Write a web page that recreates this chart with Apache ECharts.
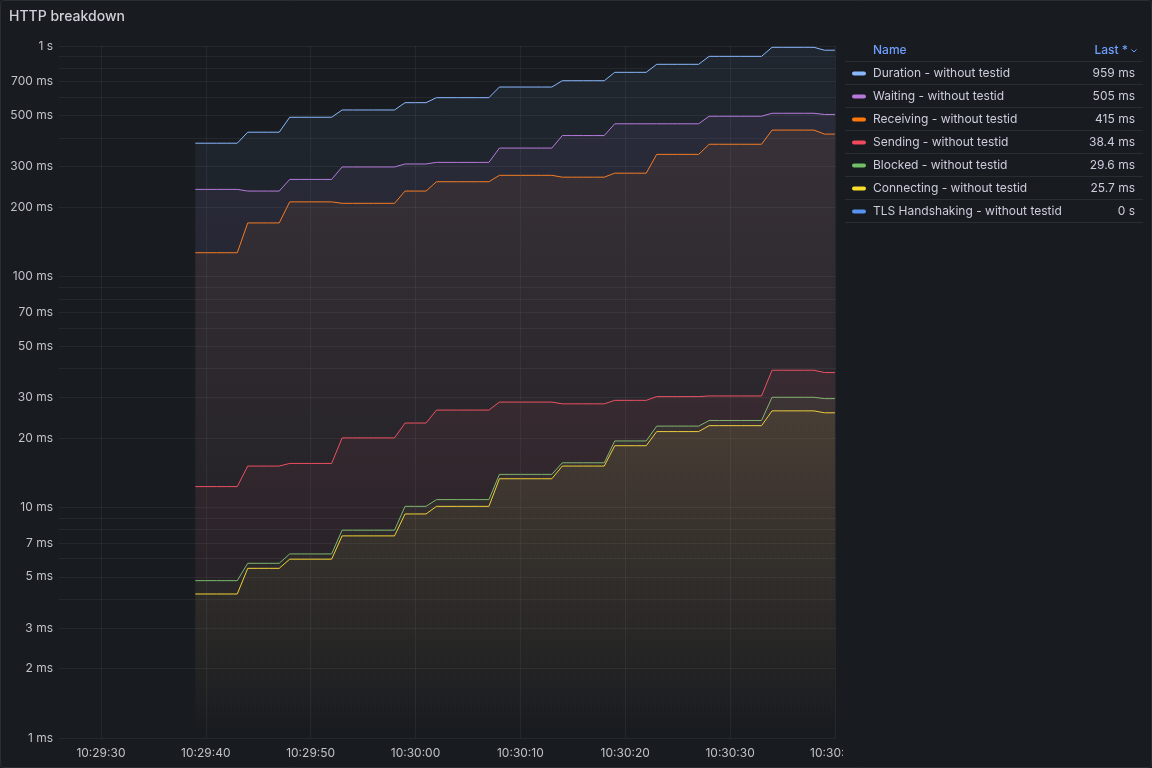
<!DOCTYPE html>
<html>
<head>
<meta charset="utf-8">
<script src="https://cdn.jsdelivr.net/npm/echarts@6/dist/echarts.min.js"></script>
<style>
  html, body { margin: 0; padding: 0; background: #181b1f; }
  #chart { width: 1152px; height: 768px; }
</style>
</head>
<body>
<div id="chart"></div>
<script>
// ---- data (values in ms, one sample per second starting 10:29:39) ----
const startTime = Date.UTC(2024, 0, 1, 10, 29, 39);
const axisStart = Date.UTC(2024, 0, 1, 10, 29, 26);
const axisEnd = Date.UTC(2024, 0, 1, 10, 30, 40, 100);
const xTickTimes = [
  Date.UTC(2024, 0, 1, 10, 29, 30), Date.UTC(2024, 0, 1, 10, 29, 40), Date.UTC(2024, 0, 1, 10, 29, 50),
  Date.UTC(2024, 0, 1, 10, 30, 0), Date.UTC(2024, 0, 1, 10, 30, 10), Date.UTC(2024, 0, 1, 10, 30, 20),
  Date.UTC(2024, 0, 1, 10, 30, 30), Date.UTC(2024, 0, 1, 10, 30, 40)
];

const seriesNames = [
  'Duration - without testid',
  'Waiting - without testid',
  'Receiving - without testid',
  'Sending - without testid',
  'Blocked - without testid',
  'Connecting - without testid',
  'TLS Handshaking - without testid'
];
const seriesColors = ['#8ab8ff', '#b877d9', '#ff780a', '#f2495c', '#73bf69', '#fade2a', '#5794f2'];
const lastValues = ['959 ms', '505 ms', '415 ms', '38.4 ms', '29.6 ms', '25.7 ms', '0 s'];

const duration = [379,379,379,379,379, 423,423,423,423, 491,491,491,491,491, 528,528,528,528,528,528,
  568,568,568, 597,597,597,597,597,597, 664,664,664,664,664,664, 707,707,707,707,707,
  769,769,769,769, 833,833,833,833,833, 902,902,902,902,902,902, 987,987,987,987,987, 959,959];
const waiting = [239,239,239,239,239, 235,235,235,235, 264,264,264,264,264, 299,299,299,299,299,299,
  308,308,308, 313,313,313,313,313,313, 361,361,361,361,361,361, 409,409,409,409,409,
  460,460,460,460, 460,460,460,460,460, 496,496,496,496,496,496, 511,511,511,511,511, 505,505];
const receiving = [127,127,127,127,127, 171,171,171,171, 211,211,211,211,211, 208,208,208,208,208,208,
  235,235,235, 258,258,258,258,258,258, 275,275,275,275,275,275, 270,270,270,270,270,
  281,281,281,281, 339,339,339,339,339, 375,375,375,375,375,375, 432,432,432,432,432, 415,415];
const sending = [12.3,12.3,12.3,12.3,12.3, 15.1,15.1,15.1,15.1, 15.5,15.5,15.5,15.5,15.5, 20.0,20.0,20.0,20.0,20.0,20.0,
  23.2,23.2,23.2, 26.4,26.4,26.4,26.4,26.4,26.4, 28.6,28.6,28.6,28.6,28.6,28.6, 28.1,28.1,28.1,28.1,28.1,
  29.1,29.1,29.1,29.1, 30.2,30.2,30.2,30.2,30.2, 30.4,30.4,30.4,30.4,30.4,30.4, 39.3,39.3,39.3,39.3,39.3, 38.4,38.4];
const blocked = [4.81,4.81,4.81,4.81,4.81, 5.72,5.72,5.72,5.72, 6.28,6.28,6.28,6.28,6.28, 7.96,7.96,7.96,7.96,7.96,7.96,
  10.1,10.1,10.1, 10.8,10.8,10.8,10.8,10.8,10.8, 13.9,13.9,13.9,13.9,13.9,13.9, 15.6,15.6,15.6,15.6,15.6,
  19.4,19.4,19.4,19.4, 22.5,22.5,22.5,22.5,22.5, 23.8,23.8,23.8,23.8,23.8,23.8, 30.0,30.0,30.0,30.0,30.0, 29.6,29.6];
const connecting = [4.21,4.21,4.21,4.21,4.21, 5.44,5.44,5.44,5.44, 5.96,5.96,5.96,5.96,5.96, 7.52,7.52,7.52,7.52,7.52,7.52,
  9.36,9.36,9.36, 10.1,10.1,10.1,10.1,10.1,10.1, 13.3,13.3,13.3,13.3,13.3,13.3, 15.1,15.1,15.1,15.1,15.1,
  18.5,18.5,18.5,18.5, 21.3,21.3,21.3,21.3,21.3, 22.6,22.6,22.6,22.6,22.6,22.6, 26.2,26.2,26.2,26.2,26.2, 25.7,25.7];
const tlsHandshaking = new Array(62).fill(0);

const yLabelValues = [1, 2, 3, 5, 7, 10, 20, 30, 50, 70, 100, 200, 300, 500, 700, 1000];
const yGridValues = [1,2,3,4,5,6,7,8,9,10,20,30,40,50,60,70,80,90,100,200,300,400,500,600,700,800,900,1000];

const allValues = [duration, waiting, receiving, sending, blocked, connecting, tlsHandshaking];

// ---- chart ----
const chart = echarts.init(document.getElementById('chart'), null, { renderer: 'canvas' });
const TEXT = '#c0c1ca';
const FONT = 'Inter, "Noto Sans", sans-serif';

function hexA(hex, a) {
  const r = parseInt(hex.slice(1, 3), 16), g = parseInt(hex.slice(3, 5), 16), b = parseInt(hex.slice(5, 7), 16);
  return 'rgba(' + r + ',' + g + ',' + b + ',' + a + ')';
}

const series = allValues.map((vals, i) => ({
  name: seriesNames[i],
  type: 'line',
  showSymbol: false,
  symbol: 'none',
  z: 10 - i,
  lineStyle: { width: 1, color: seriesColors[i] },
  itemStyle: { color: seriesColors[i] },
  areaStyle: {
    origin: 'start',
    color: new echarts.graphic.LinearGradient(0, 0, 0, 1, [
      { offset: 0, color: hexA(seriesColors[i], 0.1) },
      { offset: 1, color: hexA(seriesColors[i], 0.0) }
    ])
  },
  data: vals.map((v, k) => [startTime + k * 1000, v > 0 ? v : null])
}));

// legend table as graphics
const LX0 = 845, LX1 = 1143;
const graphics = [
  { type: 'rect', shape: { x: 0.5, y: 0.5, width: 1151, height: 767, r: 3 }, style: { fill: 'none', stroke: '#2a2d33', lineWidth: 1 }, z: 200 },
  { type: 'text', left: 9, top: 10, style: { text: 'HTTP breakdown', fill: '#d0d1da', font: '500 14px ' + FONT } },
  // clip the last time label like the panel edge does
  { type: 'rect', shape: { x: 843, y: 741, width: 40, height: 22 }, style: { fill: '#181b1f' }, z: 100 },
  { type: 'text', x: 873, y: 50, style: { text: 'Name', fill: '#6e9fff', font: '500 12px ' + FONT, verticalAlign: 'middle' } },
  { type: 'text', x: 1128, y: 50, style: { text: 'Last *', fill: '#6e9fff', font: '500 12px ' + FONT, align: 'right', verticalAlign: 'middle' } },
  { type: 'polyline', shape: { points: [[1131.5, 49.5], [1134, 52], [1136.5, 49.5]] }, style: { stroke: '#6e9fff', lineWidth: 1, fill: 'none' } }
];
const rowTop = 61, rowH = 23;
graphics.push({ type: 'line', shape: { x1: LX0, y1: rowTop + 0.5, x2: LX1, y2: rowTop + 0.5 }, style: { stroke: '#2a2d33', lineWidth: 1 } });
seriesNames.forEach((n, i) => {
  const cy = rowTop + rowH * i + rowH / 2 + 1;
  graphics.push({ type: 'rect', shape: { x: 852, y: cy - 2, width: 14, height: 4, r: 2 }, style: { fill: seriesColors[i] } });
  graphics.push({ type: 'text', x: 873, y: cy, style: { text: n, fill: '#ccccdc', font: '12px ' + FONT, verticalAlign: 'middle' } });
  graphics.push({ type: 'text', x: 1135, y: cy, style: { text: lastValues[i], fill: '#ccccdc', font: '12px ' + FONT, align: 'right', verticalAlign: 'middle' } });
  const ly = rowTop + rowH * (i + 1) + 0.5;
  graphics.push({ type: 'line', shape: { x1: LX0, y1: ly, x2: LX1, y2: ly }, style: { stroke: '#2a2d33', lineWidth: 1 } });
});

const option = {
  backgroundColor: '#181b1f',
  animation: false,
  textStyle: { fontFamily: FONT },
  grid: { left: 59, right: 316, top: 46, bottom: 30, containLabel: false },
  xAxis: {
    type: 'value',
    min: axisStart,
    max: axisEnd,
    axisLine: { show: false },
    axisTick: { show: false, customValues: xTickTimes },
    splitLine: { show: true, lineStyle: { color: 'rgba(204,204,220,0.07)', width: 1 } },
    axisLabel: {
      color: TEXT, fontSize: 12, margin: 9, fontFamily: FONT,
      customValues: xTickTimes,
      hideOverlap: false,
      formatter: function (v) {
        const d = new Date(v);
        const p = x => String(x).padStart(2, '0');
        return p(d.getUTCHours()) + ':' + p(d.getUTCMinutes()) + ':' + p(d.getUTCSeconds());
      }
    }
  },
  yAxis: {
    type: 'log',
    logBase: 10,
    min: 1,
    max: 1000,
    axisLine: { show: false },
    axisTick: { show: false, customValues: yGridValues },
    splitLine: { show: true, lineStyle: { color: 'rgba(204,204,220,0.07)', width: 1 } },
    axisLabel: {
      color: TEXT, fontSize: 12, margin: 6, fontFamily: FONT,
      customValues: yLabelValues,
      formatter: function (v) { return v >= 1000 ? (v / 1000) + ' s' : v + ' ms'; }
    }
  },
  series: series,
  graphic: graphics
};
chart.setOption(option);
</script>
</body>
</html>
